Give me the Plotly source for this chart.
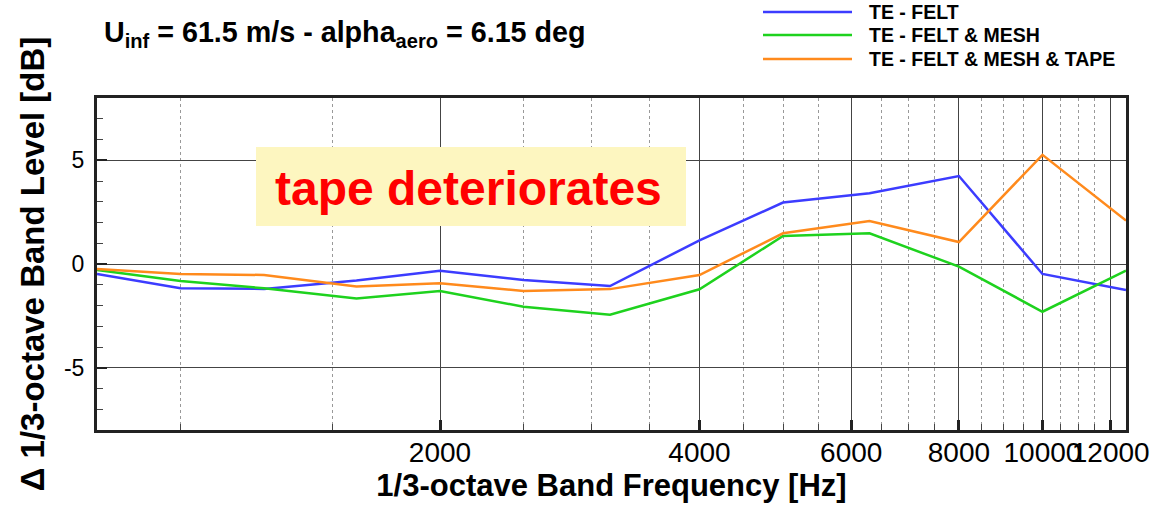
import plotly.graph_objects as go

# 1/3-octave band centre frequencies [Hz]
freq = [800, 1000, 1250, 1600, 2000, 2500, 3150, 4000, 5000, 6300, 8000, 10000, 12500]

# Delta band level relative to the reference trailing edge [dB]
felt = [-0.48, -1.17, -1.2, -0.8, -0.32, -0.77, -1.06, 1.14, 2.96, 3.41, 4.24, -0.48, -1.25]
felt_mesh = [-0.29, -0.82, -1.17, -1.66, -1.30, -2.06, -2.44, -1.22, 1.35, 1.48, -0.13, -2.30, -0.32]
felt_mesh_tape = [-0.24, -0.48, -0.53, -1.08, -0.93, -1.30, -1.21, -0.53, 1.48, 2.07, 1.06, 5.26, 2.09]

series_names = ["TE - FELT", "TE - FELT & MESH", "TE - FELT & MESH & TAPE"]
series_values = [felt, felt_mesh, felt_mesh_tape]
series_colors = ["#3c3cff", "#1ed21e", "#ff8a1c"]

x_tick_vals = [2000, 4000, 6000, 8000, 10000, 12000]
x_minor_vals = [1000, 1500, 2500, 3000, 3500, 4500, 5000, 5500, 6500, 7000, 7500,
                8500, 9000, 9500, 10500, 11000, 11500]
y_tick_vals = [-5, 0, 5]

FONT = "Liberation Sans, Arial, sans-serif"

fig = go.Figure()
for name, vals, col in zip(series_names, series_values, series_colors):
    fig.add_trace(go.Scatter(x=freq, y=vals, mode="lines", name=name,
                             line=dict(color=col, width=2.5), showlegend=False))

W, H = 1153, 508
L, R, T, B = 97, 27, 98, 78
pw, ph = W - L - R, H - T - B


def px(xp):
    return (xp - L) / pw


def py(yp):
    return (H - B - yp) / ph


fig.update_layout(
    width=W, height=H,
    margin=dict(l=L, r=R, t=T, b=B),
    paper_bgcolor="white", plot_bgcolor="white",
    font=dict(family=FONT, color="black"),
    xaxis=dict(
        type="log", range=[2.90309, 4.09691], automargin=False,
        tickvals=x_tick_vals, ticktext=[str(v) for v in x_tick_vals],
        tickangle=0, ticklabelstandoff=-5,
        ticks="inside", ticklen=10, tickwidth=3, tickcolor="#222",
        tickfont=dict(size=28, family=FONT),
        showgrid=True, gridcolor="#444", gridwidth=1,
        minor=dict(tickvals=x_minor_vals, ticks="inside", ticklen=6, tickwidth=1,
                   tickcolor="#444", showgrid=True, gridcolor="#999",
                   griddash="dot", gridwidth=1),
        showline=True, linecolor="#222", linewidth=3, mirror=True,
        title=dict(text="<b>1/3-octave Band Frequency [Hz]</b>",
                   font=dict(size=31, family=FONT), standoff=4),
        zeroline=False,
    ),
    yaxis=dict(
        range=[-8, 8], automargin=False,
        tickvals=y_tick_vals, ticktext=[str(v) for v in y_tick_vals],
        ticklabelstandoff=5,
        ticks="inside", ticklen=10, tickwidth=2, tickcolor="#222",
        tickfont=dict(size=23, family=FONT),
        showgrid=True, gridcolor="#444", gridwidth=1,
        minor=dict(dtick=1, ticks="inside", ticklen=6, tickwidth=1,
                   tickcolor="#444", showgrid=False),
        showline=True, linecolor="#222", linewidth=3, mirror=True,
        title=dict(text="<b>\u0394 1/3-octave Band Level [dB]</b>",
                   font=dict(size=33, family=FONT), standoff=10),
        zeroline=False,
    ),
)

# Highlight box with comment
fig.add_shape(type="rect", xref="paper", yref="paper",
              x0=px(256), x1=px(686), y0=py(226), y1=py(147),
              fillcolor="#fdf6c0", line=dict(width=0), layer="above")
fig.add_annotation(xref="paper", yref="paper", x=px(468), y=py(188),
                   text="<b>tape deteriorates</b>", showarrow=False,
                   xanchor="center", yanchor="middle",
                   font=dict(size=48, color="#ff0000", family=FONT))

# Run condition title
fig.add_annotation(xref="paper", yref="paper", x=px(102), y=py(34),
                   text="<b>U<sub>inf</sub> = 61.5 m/s - alpha<sub>aero</sub> = 6.15 deg</b>",
                   showarrow=False, xanchor="left", yanchor="middle",
                   font=dict(size=28.7, family=FONT))

# Legend drawn in the upper right corner
legend_rows = [12, 35, 59]
for name, col, yr in zip(series_names, series_colors, legend_rows):
    fig.add_shape(type="line", xref="paper", yref="paper",
                  x0=px(763), x1=px(852), y0=py(yr), y1=py(yr),
                  line=dict(color=col, width=2.5))
    fig.add_annotation(xref="paper", yref="paper", x=px(867), y=py(yr),
                       text="<b>" + name + "</b>", showarrow=False,
                       xanchor="left", yanchor="middle",
                       font=dict(size=19.5, family=FONT))

fig.write_html("out.html")
